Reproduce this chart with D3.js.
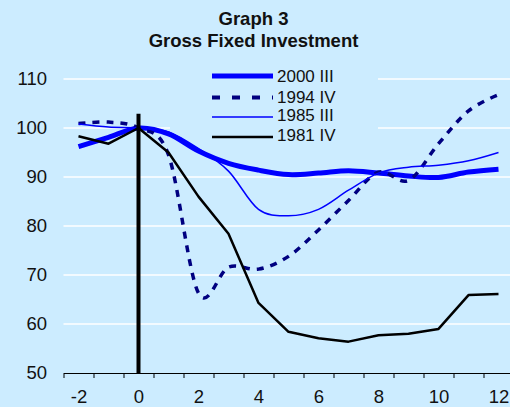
<!DOCTYPE html>
<html><head><meta charset="utf-8">
<script src="https://cdn.jsdelivr.net/npm/d3@7"></script>
<style>html,body{margin:0;padding:0;background:#CCECFF;} svg{display:block;font-family:"Liberation Sans",Arial,sans-serif;}</style>
</head><body><svg id="c" width="510" height="407"></svg>
<script>
const quarters = [-2,-1,0,1,2,3,4,5,6,7,8,9,10,11,12];
const s2000 = [96.2, 98.1, 100, 98.8, 95.3, 92.8, 91.4, 90.5, 90.8, 91.3, 90.8, 90.2, 89.9, 91.0, 91.6];
const s1994 = [100.9, 101.2, 100, 94.5, 66.3, 71.6, 71.2, 73.8, 79.2, 85.2, 91.0, 89.3, 96.8, 103.5, 106.8];
const s1985 = [100.8, 100.2, 100, 99.2, 95.8, 91.2, 83.4, 82.1, 83.4, 87.3, 90.8, 92.0, 92.4, 93.3, 95.0];
const s1981 = [98.3, 96.8, 100, 95.0, 86.0, 78.4, 64.3, 58.4, 57.1, 56.4, 57.7, 58.0, 59.0, 65.9, 66.1];
const seriesNames = ["2000 III", "1994 IV", "1985 III", "1981 IV"];
const yTicks = [50, 60, 70, 80, 90, 100, 110];
const xLabels = [-2, 0, 2, 4, 6, 8, 10, 12];
const titleLines = ["Graph 3", "Gross Fixed Investment"];

const bg = "#CCECFF";
const svg = d3.select("#c");
const x = d3.scaleLinear().domain([-2.5, 12.5]).range([63.5, 513.5]);
const y = d3.scaleLinear().domain([50, 110]).range([373, 79]);

// title
svg.selectAll("text.title").data(titleLines).join("text")
  .attr("class", "title").attr("x", 253.5).attr("y", (d, i) => 24.5 + i * 22)
  .attr("text-anchor", "middle").attr("font-weight", "bold").attr("font-size", 18.5)
  .attr("fill", "#111").text(d => d);

// gridlines
svg.append("g").selectAll("line").data(yTicks.filter(v => v > 50)).join("line")
  .attr("x1", 63.5).attr("x2", 510).attr("y1", d => y(d)).attr("y2", d => y(d))
  .attr("stroke", "#fff").attr("stroke-width", 1.5);

// legend background
svg.append("rect").attr("x", 170).attr("y", 62).attr("width", 208).attr("height", 84).attr("fill", bg);

// y labels
const ya = svg.append("g").attr("transform", "translate(63.5,0)")
  .call(d3.axisLeft(y).tickValues(yTicks).tickSize(0).tickPadding(16.5).tickFormat(d => String(d)));
ya.select(".domain").remove();
ya.selectAll("text").attr("font-size", 18.5).attr("font-family", "Liberation Sans, Arial, sans-serif").attr("fill", "#111");

// x axis
const xa = svg.append("g").attr("transform", "translate(0,373)")
  .call(d3.axisBottom(x).tickValues(d3.range(-2.5, 13, 1)).tickSize(5).tickSizeOuter(0).tickFormat(""));
xa.select(".domain").attr("stroke", "#000").attr("stroke-width", 1);
xa.selectAll(".tick line").attr("stroke", "#000");
const xl = svg.append("g").attr("transform", "translate(0,373)")
  .call(d3.axisBottom(x).tickValues(xLabels).tickSize(0).tickPadding(17).tickFormat(d => String(d)));
xl.select(".domain").remove();
xl.selectAll("text").attr("font-size", 18.5).attr("font-family", "Liberation Sans, Arial, sans-serif").attr("fill", "#111");

const styles = [
  {data: s2000, color: "#0000FF", w: 5, dash: null, curve: d3.curveCardinal.tension(0)},
  {data: s1994, color: "#000080", w: 3.5, dash: "7,7", curve: d3.curveCardinal.tension(0)},
  {data: s1985, color: "#0000FF", w: 1.5, dash: null, curve: d3.curveCardinal.tension(0)},
  {data: s1981, color: "#000000", w: 2.5, dash: null, curve: d3.curveLinear}
];
styles.forEach(s => {
  const line = d3.line().x((d, i) => x(quarters[i])).y(d => y(d)).curve(s.curve);
  svg.append("path").attr("d", line(s.data)).attr("fill", "none")
    .attr("stroke", s.color).attr("stroke-width", s.w)
    .attr("stroke-dasharray", s.dash).attr("stroke-linejoin", "round");
});

// vertical line at 0
svg.append("line").attr("x1", x(0)).attr("x2", x(0)).attr("y1", y(102.9)).attr("y2", y(50))
  .attr("stroke", "#000").attr("stroke-width", 4);

// legend
const legY = [76, 97.5, 117, 137];
const legDash = [null, "8,12", null, null];
seriesNames.forEach((n, i) => {
  svg.append("line").attr("x1", 212).attr("x2", 273).attr("y1", legY[i]).attr("y2", legY[i])
    .attr("stroke", styles[i].color).attr("stroke-width", i === 1 ? 4 : styles[i].w)
    .attr("stroke-dasharray", legDash[i]);
  svg.append("text").attr("x", 277).attr("y", legY[i] + 5.8 - i * 0.7)
    .attr("font-size", 17).attr("fill", "#111").text(n);
});
</script></body></html>
